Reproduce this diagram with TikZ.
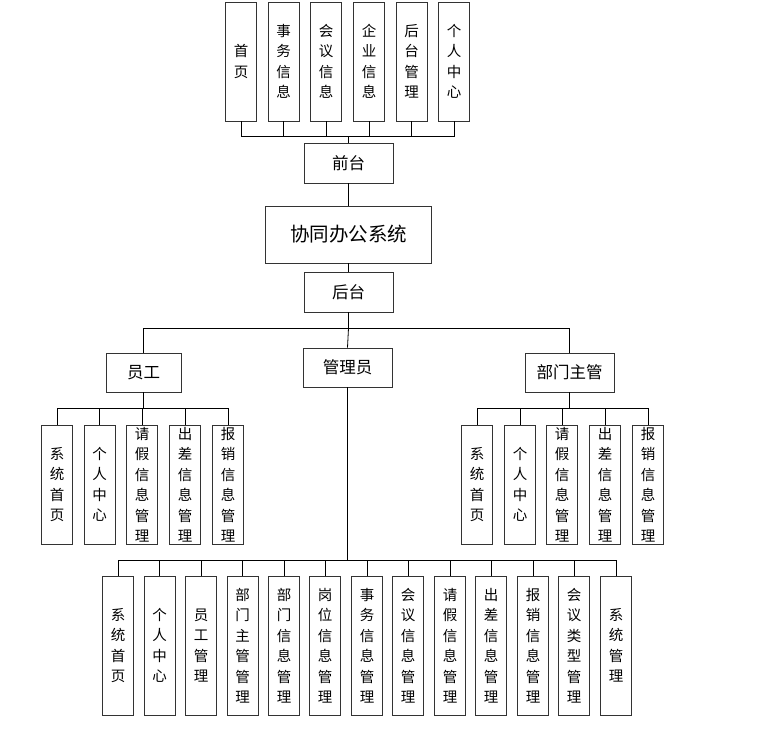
\documentclass[tikz,border=0pt]{standalone}
\usepackage{fontspec}
\newfontfamily\cjk{Noto Sans CJK SC}
\begin{document}
\begin{tikzpicture}[x=1pt,y=-1pt,
  box/.style={draw=black!80, line width=0.9pt, fill=white, inner sep=0pt, align=center},
  vbox/.style={box, minimum width=31pt, font=\cjk\fontsize{14.5}{20.5}\selectfont},
  tallbox/.style={vbox, minimum height=119pt},
  lowbox/.style={vbox, minimum height=139pt},
  hbox/.style={box, minimum width=89pt, minimum height=40pt, font=\cjk\fontsize{16.5}{19}\selectfont},
  conn/.style={draw=black, line width=0.8pt},
  thickconn/.style={draw=black, line width=1.5pt}]
\useasboundingbox (0,0) rectangle (763,729);
% top row
\node[tallbox] (t1) at (241,61.5) {首\\页};
\node[tallbox] (t2) at (283.5,61.5) {事\\务\\信\\息};
\node[tallbox] (t3) at (326,61.5) {会\\议\\信\\息};
\node[tallbox] (t4) at (369,61.5) {企\\业\\信\\息};
\node[tallbox] (t5) at (411.5,61.5) {后\\台\\管\\理};
\node[tallbox] (t6) at (454,61.5) {个\\人\\中\\心};
\node[hbox] (qt) at (348.5,163) {前台};
\node[hbox, minimum width=166pt, minimum height=57pt, font=\cjk\fontsize{19.5}{22}\selectfont] (sys) at (348.5,234.5) {协同办公系统};
\node[hbox] (ht) at (348.5,292) {后台};
\node[hbox, minimum width=75pt, minimum height=39pt] (yg) at (143.5,372.5) {员工};
\node[hbox, minimum height=39pt] (gly) at (347.5,367.5) {管理员};
\node[hbox, minimum height=39pt] (bm) at (569.5,372.5) {部门主管};
% employee children
\node[tallbox] (y1) at (57,484.5) {系\\统\\首\\页};
\node[tallbox] (y2) at (99.5,484.5) {个\\人\\中\\心};
\node[tallbox] (y3) at (142,484.5) {请\\假\\信\\息\\管\\理};
\node[tallbox] (y4) at (185,484.5) {出\\差\\信\\息\\管\\理};
\node[tallbox] (y5) at (228,484.5) {报\\销\\信\\息\\管\\理};
% department manager children
\node[tallbox] (b1) at (477,484.5) {系\\统\\首\\页};
\node[tallbox] (b2) at (520,484.5) {个\\人\\中\\心};
\node[tallbox] (b3) at (562,484.5) {请\\假\\信\\息\\管\\理};
\node[tallbox] (b4) at (605,484.5) {出\\差\\信\\息\\管\\理};
\node[tallbox] (b5) at (648,484.5) {报\\销\\信\\息\\管\\理};
% admin children
\node[lowbox] (a1) at (118,645.5) {系\\统\\首\\页};
\node[lowbox] (a2) at (159.5,645.5) {个\\人\\中\\心};
\node[lowbox] (a3) at (201,645.5) {员\\工\\管\\理};
\node[lowbox] (a4) at (242.5,645.5) {部\\门\\主\\管\\管\\理};
\node[lowbox] (a5) at (284,645.5) {部\\门\\信\\息\\管\\理};
\node[lowbox] (a6) at (325,645.5) {岗\\位\\信\\息\\管\\理};
\node[lowbox] (a7) at (367,645.5) {事\\务\\信\\息\\管\\理};
\node[lowbox] (a8) at (408,645.5) {会\\议\\信\\息\\管\\理};
\node[lowbox] (a9) at (450,645.5) {请\\假\\信\\息\\管\\理};
\node[lowbox] (a10) at (491,645.5) {出\\差\\信\\息\\管\\理};
\node[lowbox] (a11) at (533,645.5) {报\\销\\信\\息\\管\\理};
\node[lowbox] (a12) at (574,645.5) {会\\议\\类\\型\\管\\理};
\node[lowbox] (a13) at (616,645.5) {系\\统\\管\\理};
% bus coordinates
\coordinate (busT) at (348.5,136);
\coordinate (busB) at (348.5,328);
\coordinate (busY) at (143.5,408);
\coordinate (busM) at (569.5,408);
\coordinate (busA) at (347.5,560);
% connectors
\foreach \n in {t1,t2,t3,t4,t5,t6} \draw[conn] (\n.south) |- (busT);
\draw[conn] (busT) -- (qt.north);
\draw[conn] (qt.south) -- (sys.north);
\draw[conn] (sys.south) -- (ht.north);
\draw[conn] (ht.south) -- (busB);
\draw[conn] (busB) -| (yg.north);
\draw[conn] (busB) -| (bm.north);
\draw[conn] (busB) -- (gly.north);
\draw[conn] (yg.south) -- (busY);
\foreach \n in {y1,y2,y3,y4,y5} \draw[conn] (\n.north) |- (busY);
\draw[conn] (bm.south) -- (busM);
\foreach \n in {b1,b2,b3,b4,b5} \draw[conn] (\n.north) |- (busM);
\draw[thickconn] (gly.south) -- (busA);
\foreach \n in {a1,a2,a3,a4,a5,a6,a7,a8,a9,a10,a11,a12,a13} \draw[conn] (\n.north) |- (busA);
\end{tikzpicture}
\end{document}
